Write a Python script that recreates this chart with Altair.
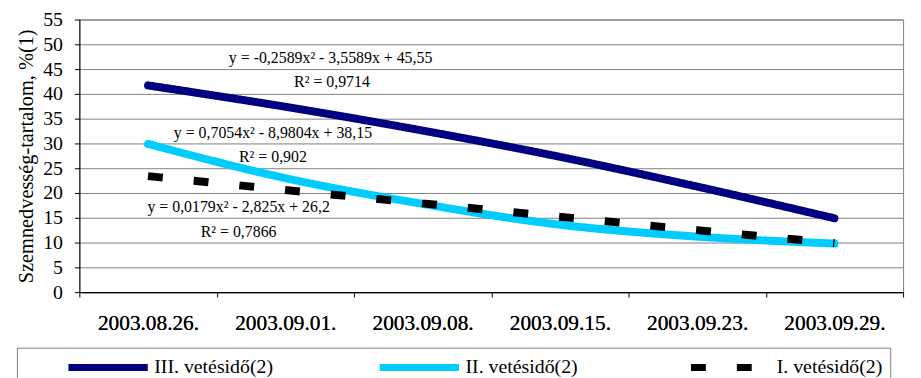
import altair as alt
import pandas as pd

# ---- data ----
dates = ["2003.08.26.", "2003.09.01.", "2003.09.08.", "2003.09.15.", "2003.09.23.", "2003.09.29."]
idx = [1, 2, 3, 4, 5, 6]
s3_name = "III. vetésidő(2)"
s2_name = "II. vetésidő(2)"
s1_name = "I. vetésidő(2)"
s3 = [41.7, 37.4, 32.6, 27.3, 21.3, 14.9]
s2 = [29.9, 23.0, 17.8, 13.6, 11.2, 9.8]
s1 = [23.4, 20.6, 17.9, 15.2, 12.5, 9.9]

ann_text = ["y = -0,2589x² - 3,5589x + 45,55", "R² = 0,9714",
            "y = 0,7054x² - 8,9804x + 38,15", "R² = 0,902",
            "y = 0,0179x² - 2,825x + 26,2", "R² = 0,7866"]
ann_x = [2.33, 2.34, 1.91, 1.91, 1.66, 1.66]
ann_y = [47.2, 42.4, 32.0, 27.2, 17.2, 12.2]

y_ticks = list(range(0, 56, 5))
x_bounds = [0.5, 1.5, 2.5, 3.5, 4.5, 5.5, 6.5]

FONT = "Liberation Serif"
order = [s3_name, s2_name, s1_name]

df = pd.DataFrame({
    "i": idx * 3,
    "v": s3 + s2 + s1,
    "series": [s3_name] * 6 + [s2_name] * 6 + [s1_name] * 6,
})
ann = pd.DataFrame({"t": ann_text, "ax": ann_x, "ay": ann_y})

arr = "[" + ",".join("'" + d + "'" for d in dates) + "]"
label_expr = arr + "[round(datum.value) - 1]"

legend = alt.Legend(
    orient="none", legendX=-63, legendY=331, direction="horizontal", columns=3,
    title=None, symbolType="stroke", symbolSize=6400, symbolStrokeWidth=7,
    labelFont=FONT, labelFontSize=20, labelColor="black", clipHeight=26,
    symbolOffset=41.5, labelOffset=3, columnPadding=62, gridAlign="all",
    strokeColor="#808080", padding=7,
)

xscale = alt.Scale(domain=[0.5, 6.5], nice=False, zero=False)
yscale = alt.Scale(domain=[0, 55], nice=False)

yaxis = alt.Axis(values=y_ticks, title="Szemnedvesség-tartalom, %(1)",
                 grid=True, gridColor="#808080", tickSize=5, tickColor="black",
                 domainColor="black", labelFont=FONT, labelFontSize=20,
                 labelColor="black", labelPadding=12, titleFont=FONT,
                 titleFontSize=20.5, titleFontWeight="normal", titleColor="black",
                 titlePadding=6)

# axis with labels at category centres
xenc = alt.X("i:Q", scale=xscale,
             axis=alt.Axis(orient="bottom", values=idx, labelExpr=label_expr, title=None,
                           grid=False, ticks=False, domainColor="black", labelFont=FONT,
                           labelFontSize=21.5, labelColor="black", labelPadding=21,
                           labelOverlap=False, labelBound=False, labelFlush=False))
yenc = alt.Y("v:Q", scale=yscale, axis=yaxis)
color = alt.Color("series:N", scale=alt.Scale(domain=order, range=["#000080", "#00CCFF", "#000000"]),
                  legend=legend)
dash = alt.StrokeDash("series:N", scale=alt.Scale(domain=order, range=[[1, 0], [1, 0], [15, 31.3]]),
                      legend=legend)

base = alt.Chart(df).encode(x=xenc, y=yenc, color=color, strokeDash=dash)

solid = base.transform_filter(alt.datum.series != s1_name).mark_line(
    strokeWidth=8, strokeCap="round", interpolate="monotone")
dashed = base.transform_filter(alt.datum.series == s1_name).mark_line(
    strokeWidth=8, strokeCap="butt", interpolate="monotone")

# axis with ticks at category boundaries
texts = alt.Chart(ann).mark_text(font=FONT, fontSize=16, color="black",
                                 align="center", baseline="middle").encode(
    x=alt.X("ax:Q", scale=xscale,
            axis=alt.Axis(orient="bottom", values=x_bounds, labels=False, title=None,
                          grid=False, tickSize=5, tickColor="black", domainColor="black")),
    y=alt.Y("ay:Q", scale=yscale, axis=yaxis),
    text="t:N")

chart = alt.layer(solid, dashed, texts).resolve_axis(x="independent").properties(
    width=831, height=275,
    view=alt.ViewBackground(stroke="#808080", strokeWidth=1),
    autosize=alt.AutoSizeParams(type="none"),
    padding={"left": 72, "top": 10, "right": 10, "bottom": 85},
).configure_view(stroke="#808080", strokeWidth=1)

chart.save("out.html", embed_options={"renderer": "svg", "actions": False})
